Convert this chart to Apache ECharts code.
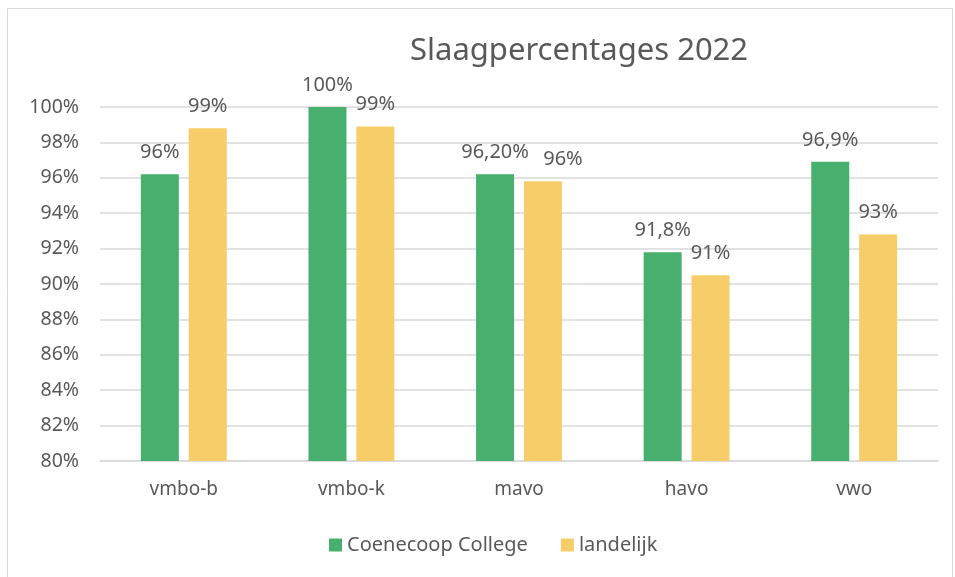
<!DOCTYPE html>
<html>
<head>
<meta charset="utf-8">
<script src="https://cdn.jsdelivr.net/npm/echarts@6/dist/echarts.min.js"></script>
<style>
  html, body { margin: 0; padding: 0; background: #fff; }
  #chart { width: 955px; height: 577px; }
</style>
</head>
<body>
<div id="chart"></div>
<script>
// data
const categories = ['vmbo-b', 'vmbo-k', 'mavo', 'havo', 'vwo']
const coenecoop = [96.2, 100, 96.2, 91.8, 96.9]
const landelijk = [98.8, 98.9, 95.8, 90.5, 92.8]
const coenecoopLabels = ['96%', '100%', '96,20%', '91,8%', '96,9%']
const landelijkLabels = ['99%', '99%', '96%', '91%', '93%']

const textColor = '#595959'
const font = 'Noto Sans'

// in the original the mavo "landelijk" label was nudged right so it clears "96,20%"
const landelijkData = landelijk.map((v, i) =>
  i === 2 ? { value: v, label: { offset: [20, 0] } } : v
)

const chart = echarts.init(document.getElementById('chart'))
chart.setOption({
  animation: false,
  graphic: [{
    type: 'rect',
    shape: { x: 7.5, y: 8.5, width: 945, height: 575 },
    style: { fill: 'none', stroke: '#d9d9d9', lineWidth: 1 }
  }],
  title: {
    text: 'Slaagpercentages 2022',
    left: 405,
    top: 31,
    textStyle: { color: textColor, fontFamily: font, fontSize: 31, fontWeight: 'normal' }
  },
  legend: {
    data: ['Coenecoop College', 'landelijk'],
    bottom: 17,
    left: 324,
    itemWidth: 13,
    itemHeight: 13,
    itemGap: 33,
    icon: 'rect',
    textStyle: { color: textColor, fontFamily: font, fontSize: 20 }
  },
  grid: {
    left: 100,
    right: 17,
    top: 107,
    bottom: 116
  },
  xAxis: {
    type: 'category',
    data: categories,
    axisTick: { show: false },
    axisLine: { lineStyle: { color: '#d9d9d9', width: 1.5 } },
    axisLabel: { color: textColor, fontFamily: font, fontSize: 19, margin: 19 }
  },
  yAxis: {
    type: 'value',
    min: 80,
    max: 100,
    interval: 2,
    axisLine: { show: false },
    axisTick: { show: false },
    splitLine: { lineStyle: { color: '#d9d9d9', width: 1.5 } },
    axisLabel: {
      color: textColor, fontFamily: font, fontSize: 19.5, margin: 21,
      formatter: v => v + '%'
    }
  },
  series: [
    {
      name: 'Coenecoop College',
      type: 'bar',
      data: coenecoop,
      barWidth: 38,
      barGap: '26%',
      itemStyle: { color: '#48b06e' },
      label: {
        show: true,
        position: 'top',
        distance: 12,
        color: textColor, fontFamily: font, fontSize: 20,
        formatter: p => coenecoopLabels[p.dataIndex]
      }
    },
    {
      name: 'landelijk',
      type: 'bar',
      data: landelijkData,
      barWidth: 38,
      itemStyle: { color: '#f6cd69' },
      label: {
        show: true,
        position: 'top',
        distance: 12,
        color: textColor, fontFamily: font, fontSize: 20,
        formatter: p => landelijkLabels[p.dataIndex]
      }
    }
  ]
})
</script>
</body>
</html>
